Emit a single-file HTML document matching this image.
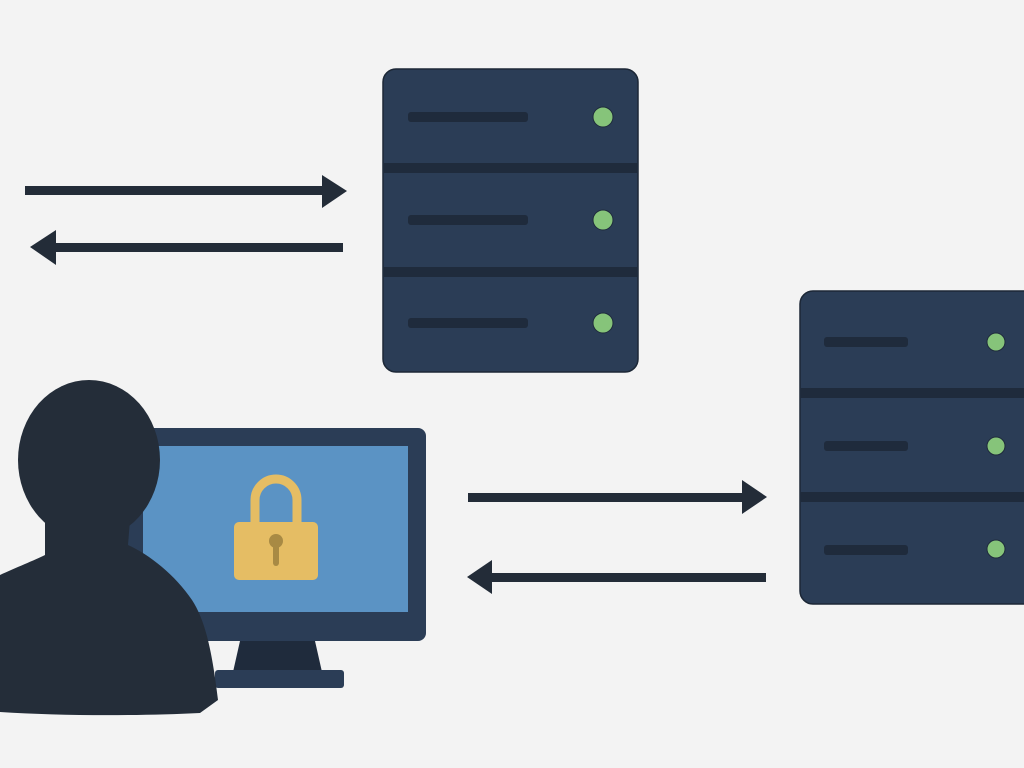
<!DOCTYPE html>
<html><head><meta charset="utf-8"><style>html,body{margin:0;padding:0;background:#f3f3f3}svg{display:block}</style></head>
<body>
<svg width="1024" height="768" viewBox="0 0 1024 768" xmlns="http://www.w3.org/2000/svg">
<rect width="1024" height="768" fill="#f3f3f3"/>
<!-- arrows -->
<g fill="#232c38">
<rect x="25" y="186" width="300" height="9"/>
<polygon points="322,175 347,191 322,208"/>
<rect x="52" y="243" width="291" height="9"/>
<polygon points="56,230 30,247 56,265"/>
<rect x="468" y="493" width="277" height="9"/>
<polygon points="742,480 767,497 742,514"/>
<rect x="490" y="573" width="276" height="9"/>
<polygon points="492,560 467,577 492,594"/>
</g>
<!-- server 1 -->
<rect x="383" y="69" width="255" height="303" rx="13" fill="#2b3d56" stroke="#1c2736" stroke-width="1.5"/>
<rect x="383" y="163" width="255" height="10" fill="#1f2b3c"/>
<rect x="383" y="267" width="255" height="10" fill="#1f2b3c"/>
<g fill="#1f2b3c"><rect x="408" y="112" width="120" height="10" rx="3"/><rect x="408" y="215" width="120" height="10" rx="3"/><rect x="408" y="318" width="120" height="10" rx="3"/></g>
<g fill="#86c47a" stroke="#1f2b3c" stroke-width="1"><circle cx="603" cy="117" r="10"/><circle cx="603" cy="220" r="10"/><circle cx="603" cy="323" r="10"/></g>
<!-- server 2 -->
<rect x="800" y="291" width="240" height="313" rx="13" fill="#2b3d56" stroke="#1c2736" stroke-width="1.5"/>
<rect x="800" y="388" width="224" height="10" fill="#1f2b3c"/>
<rect x="800" y="492" width="224" height="10" fill="#1f2b3c"/>
<g fill="#1f2b3c"><rect x="824" y="337" width="84" height="10" rx="3"/><rect x="824" y="441" width="84" height="10" rx="3"/><rect x="824" y="545" width="84" height="10" rx="3"/></g>
<g fill="#86c47a" stroke="#1f2b3c" stroke-width="1"><circle cx="996" cy="342" r="9"/><circle cx="996" cy="446" r="9"/><circle cx="996" cy="549" r="9"/></g>
<!-- monitor -->
<polygon points="240,641 315,641 322,672 233,672" fill="#1f2b3c"/>
<rect x="215" y="670" width="129" height="18" rx="3" fill="#2b3d56"/>
<rect x="125" y="428" width="301" height="213" rx="8" fill="#2b3d56"/>
<rect x="143" y="446" width="265" height="166" fill="#5b93c4"/>
<!-- lock -->
<path d="M255,522 V500 A21,21 0 0 1 297,500 V522" fill="none" stroke="#e5bd64" stroke-width="9"/>
<rect x="234" y="522" width="84" height="58" rx="5" fill="#e5bd64"/>
<circle cx="276" cy="541" r="7" fill="#a88a44"/>
<rect x="273" y="541" width="6" height="25" rx="3" fill="#a88a44"/>
<!-- person -->
<g fill="#242d39">
<ellipse cx="89" cy="460" rx="71" ry="80"/>
<path d="M45,520 L130,520 L128,545 C150,555 175,575 192,600 C205,620 212,650 218,700 L200,713 C140,716 60,716 0,712 L0,575 C15,568 35,560 45,555 Z"/>
</g>
</svg>
</body></html>
